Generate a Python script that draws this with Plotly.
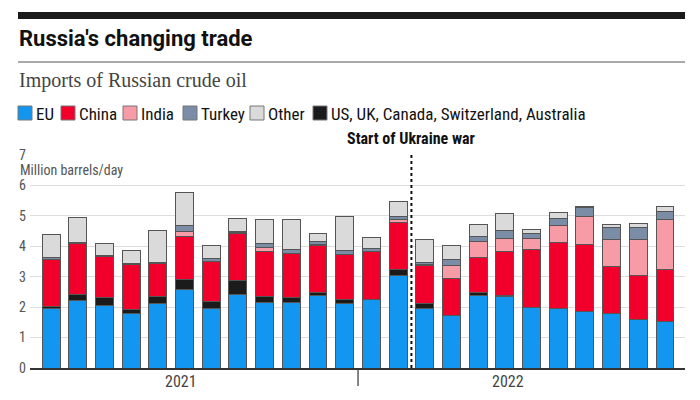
import plotly.graph_objects as go

months = list(range(24))
eu =     [1.94, 2.23, 2.07, 1.78, 2.13, 2.57, 1.97, 2.40, 2.16, 2.16, 2.37, 2.11,
          2.24, 3.03, 1.97, 1.73, 2.39, 2.35, 1.99, 1.94, 1.86, 1.79, 1.58, 1.53]
us_etc = [0.09, 0.19, 0.24, 0.15, 0.22, 0.33, 0.22, 0.46, 0.19, 0.15, 0.12, 0.13,
          0.02, 0.20, 0.14, 0.00, 0.10, 0.02, 0.00, 0.02, 0.00, 0.00, 0.00, 0.00]
china =  [1.55, 1.66, 1.37, 1.46, 1.09, 1.42, 1.31, 1.55, 1.47, 1.44, 1.53, 1.48,
          1.56, 1.55, 1.25, 1.21, 1.15, 1.46, 1.89, 2.18, 2.21, 1.55, 1.45, 1.72]
india =  [0.00, 0.00, 0.00, 0.00, 0.00, 0.17, 0.00, 0.03, 0.15, 0.00, 0.05, 0.00,
          0.00, 0.09, 0.03, 0.42, 0.51, 0.42, 0.37, 0.53, 0.92, 0.89, 1.20, 1.64]
turkey = [0.06, 0.03, 0.03, 0.05, 0.02, 0.18, 0.10, 0.05, 0.11, 0.16, 0.09, 0.15,
          0.12, 0.12, 0.09, 0.22, 0.18, 0.27, 0.16, 0.24, 0.29, 0.40, 0.40, 0.25]
other =  [0.74, 0.83, 0.38, 0.43, 1.05, 1.11, 0.42, 0.43, 0.79, 0.98, 0.25, 1.11,
          0.36, 0.49, 0.73, 0.46, 0.37, 0.56, 0.14, 0.21, 0.03, 0.09, 0.12, 0.18]
year_labels = ["2021", "2022"]
yticks = [0, 1, 2, 3, 4, 5, 6, 7]

series = [
    ("EU", eu, "#1296f0"),
    ("US, UK, Canada, Switzerland, Australia", us_etc, "#1b1b1b"),
    ("China", china, "#f0002a"),
    ("India", india, "#f79ba7"),
    ("Turkey", turkey, "#7b8ca6"),
    ("Other", other, "#dadada"),
]

L, R, T, B = 30, 15, 155, 32
W, H = 700, 400
PW, PH = W - L - R, H - T - B


def px(x):
    return (x - L) / PW


def py(y):
    return (H - B - y) / PH


fig = go.Figure()
for name, vals, col in series:
    fig.add_trace(go.Bar(x=months, y=vals, name=name, marker_color=col,
                         marker_line_color="#555555", marker_line_width=1,
                         showlegend=False, hoverinfo="skip"))

cond = "Liberation Sans Narrow, Roboto Condensed, Arial Narrow, Roboto, sans-serif"
shapes = []
annotations = []

# top black bar and divider
shapes.append(dict(type="rect", xref="paper", yref="paper", x0=px(18), x1=px(685),
                   y0=py(19), y1=py(12), fillcolor="#1a1a1a", line_width=0, layer="above"))
shapes.append(dict(type="line", xref="paper", yref="paper", x0=px(18), x1=px(685),
                   y0=py(62), y1=py(62), line=dict(color="#555555", width=1.2)))

annotations.append(dict(text="<b>Russia's changing trade</b>", xref="paper", yref="paper",
                        x=px(17), y=py(38), xanchor="left", yanchor="middle", showarrow=False,
                        font=dict(family="Roboto, sans-serif", size=22, color="#111111")))
annotations.append(dict(text="Imports of Russian crude oil", xref="paper", yref="paper",
                        x=px(17), y=py(80), xanchor="left", yanchor="middle", showarrow=False,
                        font=dict(family="Liberation Serif, DejaVu Serif, serif", size=20, color="#444444")))

# manual legend
legend_items = [("EU", 18), ("China", 61), ("India", 123), ("Turkey", 183), ("Other", 250),
                ("US, UK, Canada, Switzerland, Australia", 313)]
colmap = {n: c for n, _, c in series}
for name, x0 in legend_items:
    shapes.append(dict(type="rect", xref="paper", yref="paper", x0=px(x0), x1=px(x0 + 14),
                       y0=py(120), y1=py(106), fillcolor=colmap[name],
                       line=dict(color="#777777", width=1)))
    annotations.append(dict(text=name, xref="paper", yref="paper", x=px(x0 + 16), y=py(113.5),
                            xanchor="left", yanchor="middle", showarrow=False,
                            font=dict(family=cond, size=17, color="#111111")))

# war line
shapes.append(dict(type="line", xref="x", yref="y", x0=13.5, x1=13.5, y0=0, y1=7.05,
                   line=dict(color="#111111", width=2, dash="dot"), layer="above"))
annotations.append(dict(text="<b>Start of Ukraine war</b>", xref="x", yref="paper",
                        x=13.5, y=py(138), xanchor="center", yanchor="middle", showarrow=False,
                        font=dict(family=cond, size=16, color="#111111")))

# y title
annotations.append(dict(text="Million barrels/day", xref="paper", yref="paper", x=px(18), y=py(170),
                        xanchor="left", yanchor="middle", showarrow=False,
                        font=dict(family=cond, size=14, color="#555555")))

# year separator and labels
shapes.append(dict(type="line", xref="x", yref="paper", x0=11.5, x1=11.5, y0=py(386), y1=0,
                   line=dict(color="#333333", width=1.2)))
annotations.append(dict(text=year_labels[0], xref="x", yref="paper", x=4.85, y=py(381),
                        xanchor="center", yanchor="middle", showarrow=False,
                        font=dict(family=cond, size=16, color="#444444")))
annotations.append(dict(text=year_labels[1], xref="x", yref="paper", x=17.1, y=py(381),
                        xanchor="center", yanchor="middle", showarrow=False,
                        font=dict(family=cond, size=16, color="#444444")))

fig.update_layout(
    width=W, height=H, margin=dict(l=L, r=R, t=T, b=B),
    barmode="stack", bargap=0.33,
    plot_bgcolor="white", paper_bgcolor="white",
    shapes=shapes, annotations=annotations, showlegend=False,
    xaxis=dict(range=[-0.79, 23.75], showticklabels=False, showgrid=False, zeroline=False,
               showline=True, linecolor="#333333", linewidth=1.5, fixedrange=True),
    yaxis=dict(range=[0, 7], tickvals=yticks, showgrid=True, gridcolor="#dddddd", gridwidth=1,
               zeroline=False, ticks="", ticklabelstandoff=3,
               tickfont=dict(family=cond, size=14, color="#555555"), fixedrange=True),
)

fig.write_html("out.html", config={"displayModeBar": False})
